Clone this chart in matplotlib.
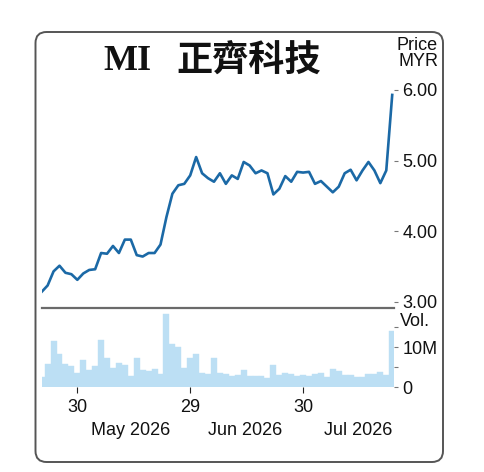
import matplotlib
matplotlib.use("Agg")
import matplotlib.pyplot as plt
from matplotlib.patches import FancyBboxPatch
from matplotlib.transforms import IdentityTransform, blended_transform_factory

plt.rcParams['font.family'] = ['Liberation Sans', 'DejaVu Sans']

# prix de clôture (MYR), une valeur par séance
price = [3.14, 3.23, 3.43, 3.51, 3.41, 3.39, 3.31, 3.40, 3.45, 3.46,
         3.69, 3.68, 3.79, 3.69, 3.88, 3.88, 3.66, 3.64, 3.69, 3.69,
         3.81, 4.20, 4.53, 4.65, 4.67, 4.79, 5.05, 4.82, 4.75, 4.70,
         4.82, 4.67, 4.79, 4.74, 4.98, 4.93, 4.82, 4.86, 4.82, 4.52,
         4.60, 4.78, 4.70, 4.84, 4.83, 4.84, 4.67, 4.71, 4.63, 4.55,
         4.63, 4.82, 4.87, 4.72, 4.86, 4.98, 4.86, 4.68, 4.86, 5.93]

# volume (millions d'actions)
volume = [2.6, 5.7, 11.6, 8.2, 5.7, 5.3, 3.6, 6.7, 4.2, 5.3,
          11.9, 7.2, 4.9, 6.1, 5.5, 2.8, 7.3, 4.2, 4.0, 4.6,
          3.3, 18.4, 10.9, 10.1, 4.8, 7.4, 8.4, 3.4, 3.2, 7.3,
          3.6, 3.3, 2.8, 3.0, 4.3, 2.8, 2.8, 2.75, 2.3, 5.5,
          3.0, 3.4, 3.25, 2.75, 3.0, 2.75, 3.2, 3.4, 2.6, 4.5,
          4.0, 3.0, 3.0, 2.4, 2.4, 3.2, 3.2, 3.8, 3.0, 14.0]

day_ticks = [6, 25, 44]
day_labels = ['30', '29', '30']
month_pos = [15.0, 34.2, 53.3]
month_labels = ['May 2026', 'Jun 2026', 'Jul 2026']

price_ticks = [3, 4, 5, 6]
vol_ticks = [0, 5, 10, 15]
vol_labels = ['0', '', '10M', '']

W, H = 484, 472
x = list(range(len(price)))

fig = plt.figure(figsize=(W / 100, H / 100), dpi=100)

left = 41.5 / W
width = (394 - 41.5) / W
ax = fig.add_axes([left, 1 - 307.5 / H, width, (307.5 - 79.4) / H])
axv = fig.add_axes([left, 1 - 387 / H, width, (387 - 307.5) / H])

# courbe du prix
ax.plot(x, price, color='#1b69a6', linewidth=1.9, solid_joinstyle='round')
ax.set_xlim(-0.03, 59.3)
ax.set_ylim(2.918, 6.15)
ax.set_yticks(price_ticks)
ax.set_yticklabels(['%.2f' % v for v in price_ticks])
ax.yaxis.tick_right()
ax.tick_params(axis='y', length=3, width=0.8, color='#777777', pad=3,
               labelsize=13, labelcolor='#111111')
ax.set_xticks([])
for s in ax.spines.values():
    s.set_visible(False)

# volume
axv.bar(x, volume, width=1.0, color='#bcdff4', edgecolor='#bcdff4', linewidth=0.3)
axv.set_xlim(-0.03, 59.3)
axv.set_ylim(0, 20)
axv.set_yticks(vol_ticks)
axv.set_yticklabels(vol_labels)
axv.yaxis.tick_right()
axv.tick_params(axis='y', length=3, width=0.8, color='#777777', pad=3,
                labelsize=13, labelcolor='#111111')
axv.set_xticks(day_ticks)
axv.set_xticklabels(day_labels)
axv.tick_params(axis='x', length=4, width=0.8, color='#222222', pad=5,
                labelsize=13, labelcolor='#111111')
for name, s in axv.spines.items():
    s.set_visible(name == 'top')
axv.spines['top'].set_color('#6a6a6a')
axv.spines['top'].set_linewidth(1.6)

trans = blended_transform_factory(axv.transData, axv.transAxes)
for pos, lab in zip(month_pos, month_labels):
    axv.text(pos, -0.55, lab, transform=trans, ha='center', va='center',
             fontsize=13, color='#111111')

# titre et légendes d'axe
fig.text(103 / W, 1 - 62 / H, 'MI', ha='left', va='center', fontsize=26,
         fontweight='bold', family=['Liberation Serif', 'DejaVu Serif'], color='#111111')
fig.text(176 / W, 1 - 61 / H, '正齊科技', ha='left', va='center', fontsize=26,
         fontweight='bold', family=['Noto Sans CJK TC', 'DejaVu Sans'], color='#111111')
fig.text(438 / W, 1 - 46 / H, 'Price', ha='right', va='center', fontsize=13, color='#111111')
fig.text(438 / W, 1 - 62 / H, 'MYR', ha='right', va='center', fontsize=13, color='#111111')
fig.text(400 / W, 1 - 322 / H, 'Vol.', ha='left', va='center', fontsize=13, color='#111111')

# cadre arrondi
cadre = FancyBboxPatch((35.5, H - 462), 407.5, 430,
                       boxstyle='round,pad=0,rounding_size=11',
                       transform=IdentityTransform(), fill=False,
                       edgecolor='#555555', linewidth=1.4)
fig.add_artist(cadre)

fig.savefig('out.png', dpi=100)
